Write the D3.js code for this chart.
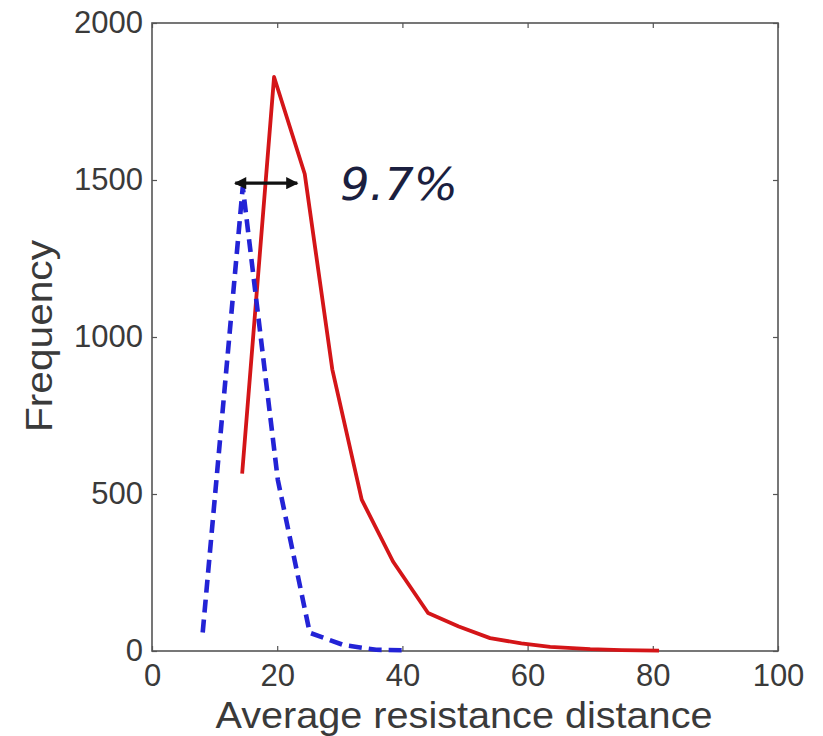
<!DOCTYPE html>
<html>
<head>
<meta charset="utf-8">
<script src="https://cdn.jsdelivr.net/npm/d3@7"></script>
<style>
  html, body { margin: 0; padding: 0; background: #fff; }
  svg { display: block; }
</style>
</head>
<body>
<svg id="chart" width="823" height="736"></svg>
<script>
// Distribution of average resistance distance (two networks)
const dashedX = [8.1, 14.5, 20.1, 25.2, 30.6, 35.8, 40.8];
const dashedY = [59, 1478, 545, 58, 19, 4, 2];

const solidX = [14.4, 19.5, 24.4, 28.8, 33.5, 38.5, 44.1, 49, 54, 59, 63.6, 70, 75, 81];
const solidY = [565, 1828, 1519, 897, 482, 285, 121, 78, 41, 24, 13, 6, 3, 1];

const xTicks = [0, 20, 40, 60, 80, 100];
const yTicks = [0, 500, 1000, 1500, 2000];

const gapLabel = "9.7%";
const gapFrom = 13.3, gapTo = 23.2, gapLevel = 1490;

const svg = d3.select("#chart");
const W = 823, H = 736;
const m = { left: 152, right: 45, top: 23, bottom: 85 };

const x = d3.scaleLinear().domain([0, 100]).range([m.left, W - m.right]);
const y = d3.scaleLinear().domain([0, 2000]).range([H - m.bottom, m.top]);

const axisColor = "#555";
const labelColor = "#3a3a3a";
const font = "'Liberation Sans', Arial, sans-serif";

// frame
svg.append("rect")
  .attr("x", x(0)).attr("y", y(2000))
  .attr("width", x(100) - x(0)).attr("height", y(0) - y(2000))
  .attr("fill", "none").attr("stroke", axisColor).attr("stroke-width", 1.6);

// axes with inward ticks on all four sides
const tickLen = 5;
const styleAxis = g => {
  g.select(".domain").remove();
  g.selectAll(".tick line").attr("stroke", axisColor).attr("stroke-width", 1.2);
  g.selectAll(".tick text")
    .attr("fill", labelColor)
    .style("font-family", font)
    .style("font-size", "31px");
};

svg.append("g").attr("transform", `translate(0,${y(0)})`)
  .call(d3.axisBottom(x).tickValues(xTicks).tickSize(-tickLen).tickPadding(13).tickFormat(d3.format("d")))
  .call(styleAxis);
svg.append("g").attr("transform", `translate(0,${y(2000)})`)
  .call(d3.axisTop(x).tickValues(xTicks).tickSize(-tickLen).tickFormat(""))
  .call(styleAxis);
svg.append("g").attr("transform", `translate(${x(0)},0)`)
  .call(d3.axisLeft(y).tickValues(yTicks).tickSize(-tickLen).tickPadding(9).tickFormat(d3.format("d")))
  .call(styleAxis);
svg.append("g").attr("transform", `translate(${x(100)},0)`)
  .call(d3.axisRight(y).tickValues(yTicks).tickSize(-tickLen).tickFormat(""))
  .call(styleAxis);

// axis titles
svg.append("text")
  .attr("x", 464).attr("y", 728)
  .attr("text-anchor", "middle")
  .attr("textLength", 497).attr("lengthAdjust", "spacingAndGlyphs")
  .attr("fill", labelColor)
  .style("font-family", font).style("font-size", "37px")
  .text("Average resistance distance");

svg.append("text")
  .attr("transform", "translate(52,336) rotate(-90)")
  .attr("text-anchor", "middle")
  .attr("textLength", 192).attr("lengthAdjust", "spacingAndGlyphs")
  .attr("fill", labelColor)
  .style("font-family", font).style("font-size", "37px")
  .text("Frequency");

// series
const line = d3.line().x(d => x(d[0])).y(d => y(d[1]));

svg.append("path")
  .datum(solidX.map((v, i) => [v, solidY[i]]))
  .attr("d", line)
  .attr("fill", "none")
  .attr("stroke", "#d41518")
  .attr("stroke-width", 3.8)
  .attr("stroke-linejoin", "round");

svg.append("path")
  .datum(dashedX.map((v, i) => [v, dashedY[i]]))
  .attr("d", line)
  .attr("fill", "none")
  .attr("stroke", "#2323d6")
  .attr("stroke-width", 4.6)
  .attr("stroke-dasharray", "13,7");

// double-headed arrow marking the shift between the peaks
const defs = svg.append("defs");
["start", "end"].forEach(k => {
  defs.append("marker")
    .attr("id", "arr-" + k)
    .attr("viewBox", "0 0 10 10")
    .attr("refX", 9).attr("refY", 5)
    .attr("markerWidth", 4).attr("markerHeight", 3.6)
    .attr("markerUnits", "strokeWidth")
    .attr("orient", "auto-start-reverse")
    .append("path").attr("d", "M0,0 L10,5 L0,10 Z").attr("fill", "#111");
});
svg.append("line")
  .attr("x1", x(gapFrom)).attr("x2", x(gapTo))
  .attr("y1", y(gapLevel)).attr("y2", y(gapLevel))
  .attr("stroke", "#111").attr("stroke-width", 3.4)
  .attr("marker-start", "url(#arr-start)")
  .attr("marker-end", "url(#arr-end)");

svg.append("text")
  .attr("x", 340).attr("y", 200)
  .attr("fill", "#1b1f3f")
  .style("font-family", "'DejaVu Sans', sans-serif")
  .style("font-style", "italic")
  .style("font-size", "44px")
  .attr("textLength", 118).attr("lengthAdjust", "spacingAndGlyphs")
  .text(gapLabel);
</script>
</body>
</html>
